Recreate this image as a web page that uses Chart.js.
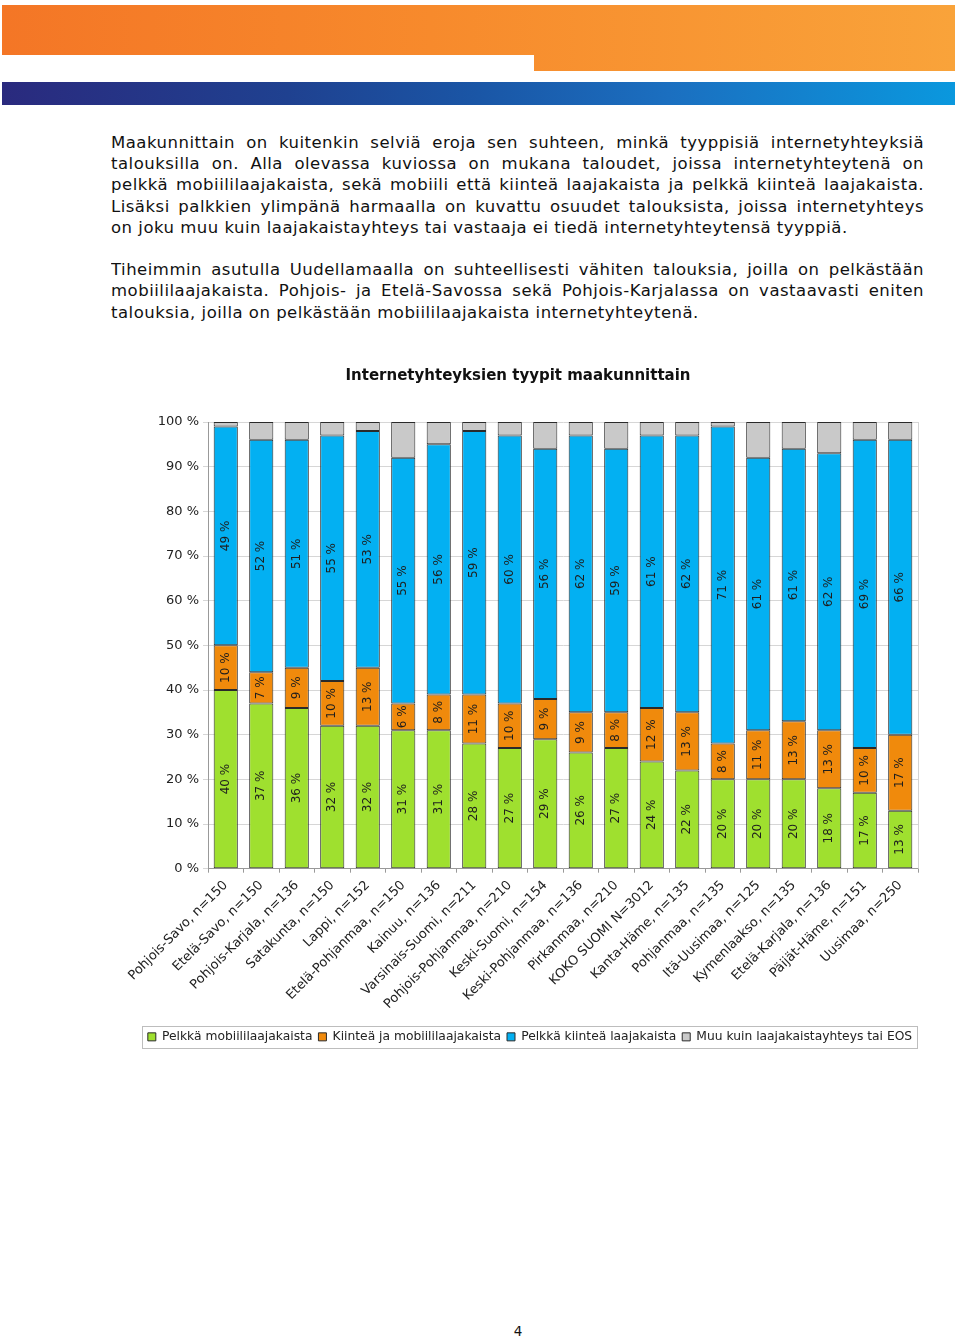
<!DOCTYPE html>
<html lang="fi">
<head>
<meta charset="utf-8">
<title>Internetyhteyksien tyypit maakunnittain</title>
<script src="https://cdn.jsdelivr.net/npm/chart.js@4/dist/chart.umd.min.js"></script>
<style>
  html, body { margin: 0; padding: 0; background: #fff; }
  body { width: 960px; height: 1340px; position: relative; overflow: hidden; font-family: "DejaVu Sans", Verdana, sans-serif; color: #111; }
  .orange {
    position: absolute; left: 2px; top: 5px; width: 953px; height: 66px;
    background: linear-gradient(90deg, #f47626 0%, #f78a2c 45%, #f9a33a 100%);
    clip-path: polygon(0 0, 100% 0, 100% 66px, 532px 66px, 532px 50px, 0 50px);
  }
  .blue {
    position: absolute; left: 2px; top: 82px; width: 953px; height: 23px;
    background: linear-gradient(90deg, #2a2a7e 0%, #1f4190 30%, #1a56a6 50%, #1b6fc0 70%, #0a98de 100%);
  }
  .text { position: absolute; left: 111px; top: 132px; width: 813px; font-size: 16.5px; letter-spacing: 0.5px; }
  .text div { height: 21.2px; line-height: 21.2px; white-space: nowrap; }
  .text div.j { text-align: justify; text-align-last: justify; white-space: normal; overflow: hidden; }
  #wrap { position: absolute; left: 100px; top: 355px; width: 840px; height: 698px; }
  .page { position: absolute; left: 508px; width: 20px; top: 1323px; text-align: center; font-size: 13.5px; }
</style>
</head>
<body>
<div class="orange"></div>
<div class="blue"></div>

<div class="text">
  <div class="j">Maakunnittain on kuitenkin selviä eroja sen suhteen, minkä tyyppisiä internetyhteyksiä</div>
  <div class="j">talouksilla on. Alla olevassa kuviossa on mukana taloudet, joissa internetyhteytenä on</div>
  <div class="j">pelkkä mobiililaajakaista, sekä mobiili että kiinteä laajakaista ja pelkkä kiinteä laajakaista.</div>
  <div class="j">Lisäksi palkkien ylimpänä harmaalla on kuvattu osuudet talouksista, joissa internetyhteys</div>
  <div>on joku muu kuin laajakaistayhteys tai vastaaja ei tiedä internetyhteytensä tyyppiä.</div>
  <div>&nbsp;</div>
  <div class="j">Tiheimmin asutulla Uudellamaalla on suhteellisesti vähiten talouksia, joilla on pelkästään</div>
  <div class="j">mobiililaajakaista. Pohjois- ja Etelä-Savossa sekä Pohjois-Karjalassa on vastaavasti eniten</div>
  <div>talouksia, joilla on pelkästään mobiililaajakaista internetyhteytenä.</div>
</div>

<div id="wrap"><canvas id="chart"></canvas></div>
<div class="page">4</div>

<script>
const categories = [
  "Pohjois-Savo, n=150", "Etelä-Savo, n=150", "Pohjois-Karjala, n=136", "Satakunta, n=150",
  "Lappi, n=152", "Etelä-Pohjanmaa, n=150", "Kainuu, n=136", "Varsinais-Suomi, n=211",
  "Pohjois-Pohjanmaa, n=210", "Keski-Suomi, n=154", "Keski-Pohjanmaa, n=136", "Pirkanmaa, n=210",
  "KOKO SUOMI N=3012", "Kanta-Häme, n=135", "Pohjanmaa, n=135", "Itä-Uusimaa, n=125",
  "Kymenlaakso, n=135", "Etelä-Karjala, n=136", "Päijät-Häme, n=151", "Uusimaa, n=250"
];
const seriesNames = [
  "Pelkkä mobiililaajakaista", "Kiinteä ja mobiililaajakaista",
  "Pelkkä kiinteä laajakaista", "Muu kuin laajakaistayhteys tai EOS"
];
const mobileOnly     = [40, 37, 36, 32, 32, 31, 31, 28, 27, 29, 26, 27, 24, 22, 20, 20, 20, 18, 17, 13];
const fixedAndMobile = [10, 7, 9, 10, 13, 6, 8, 11, 10, 9, 9, 8, 12, 13, 8, 11, 13, 13, 10, 17];
const fixedOnly      = [49, 52, 51, 55, 53, 55, 56, 59, 60, 56, 62, 59, 61, 62, 71, 61, 61, 62, 69, 66];
const otherOrEos     = [1, 4, 4, 3, 2, 8, 5, 2, 3, 6, 3, 6, 3, 3, 1, 8, 6, 7, 4, 4];
const yTicks = [0, 10, 20, 30, 40, 50, 60, 70, 80, 90, 100];

const colors = ["#9fe02f", "#f08a0c", "#03b0f2", "#c9c9c9"];
const FONT = '"DejaVu Sans", Verdana, sans-serif';
const LEGEND_SHIFT = 12;

// value labels inside the bars, turned on their side
const segmentLabels = {
  id: "segmentLabels",
  afterDatasetsDraw(chart) {
    const ctx = chart.ctx;
    ctx.save();
    ctx.font = "12px " + FONT;
    ctx.fillStyle = "#1e1e1e";
    ctx.textAlign = "center";
    ctx.textBaseline = "middle";
    chart.data.datasets.forEach((ds, i) => {
      if (i === 3) return;
      chart.getDatasetMeta(i).data.forEach((bar, j) => {
        const y = (bar.y + bar.base) / 2;
        ctx.save();
        ctx.translate(bar.x, y);
        ctx.rotate(-Math.PI / 2);
        ctx.fillText(ds.data[j] + " %", 0, 0);
        ctx.restore();
      });
    });
    ctx.restore();
  }
};

// nudge the legend a bit right, frame it, and close the plot on the right
const frames = {
  id: "frames",
  afterUpdate(chart) {
    const lg = chart.legend;
    if (!lg) return;
    lg.left += LEGEND_SHIFT;
    lg.right += LEGEND_SHIFT;
    (lg.legendHitBoxes || []).forEach(b => { b.left += LEGEND_SHIFT; });
  },
  afterDraw(chart) {
    const ctx = chart.ctx;
    const boxes = chart.legend.legendHitBoxes;
    if (boxes && boxes.length) {
      const left = Math.min(...boxes.map(b => b.left)) - 6;
      const right = Math.max(...boxes.map(b => b.left + b.width)) + 5;
      const top = boxes[0].top - 5;
      const bottom = boxes[0].top + boxes[0].height + 5;
      ctx.save();
      ctx.strokeStyle = "#bdbdbd";
      ctx.lineWidth = 1;
      ctx.strokeRect(Math.round(left) + 0.5, Math.round(top) + 0.5, Math.round(right - left), Math.round(bottom - top));
      ctx.restore();
    }
    const a = chart.chartArea;
    ctx.save();
    ctx.strokeStyle = "#d4d4d4";
    ctx.beginPath();
    ctx.moveTo(Math.round(a.right) + 0.5, a.top);
    ctx.lineTo(Math.round(a.right) + 0.5, a.bottom);
    ctx.stroke();
    ctx.restore();
  }
};

const datasets = [mobileOnly, fixedAndMobile, fixedOnly, otherOrEos].map((vals, i) => ({
  label: seriesNames[i],
  data: vals,
  backgroundColor: colors[i],
  borderColor: "#2a2a2a",
  borderWidth: 1,
  borderSkipped: false,
  categoryPercentage: 1,
  barPercentage: 0.68
}));

new Chart(document.getElementById("chart"), {
  type: "bar",
  data: { labels: categories, datasets: datasets },
  options: {
    responsive: true,
    maintainAspectRatio: false,
    animation: false,
    layout: { padding: { left: 18, right: 22, top: 0, bottom: 0 } },
    plugins: {
      title: {
        display: true,
        text: "Internetyhteyksien tyypit maakunnittain",
        color: "#111",
        font: { family: FONT, size: 15, weight: "bold" },
        padding: { top: 12, bottom: 37 }
      },
      legend: {
        position: "bottom",
        labels: {
          color: "#222",
          font: { family: FONT, size: 12.3 },
          boxWidth: 8,
          boxHeight: 8,
          padding: 6,
          useBorderRadius: false
        }
      },
      tooltip: { enabled: false }
    },
    scales: {
      x: {
        stacked: true,
        grid: { display: true, drawOnChartArea: false, offset: true, tickLength: 4, color: "#999" },
        border: { color: "#999" },
        ticks: {
          color: "#222",
          font: { family: FONT, size: 13 },
          minRotation: 45,
          maxRotation: 45,
          autoSkip: false,
          padding: 5
        },
        afterFit(s) { s.height = 156; }
      },
      y: {
        stacked: true,
        min: 0,
        max: 100,
        afterBuildTicks(s) { s.ticks = yTicks.map(v => ({ value: v })); },
        grid: { color: "#d6d6d6", tickLength: 5 },
        border: { color: "#999" },
        ticks: {
          color: "#222",
          font: { family: FONT, size: 13 },
          padding: 4,
          callback: v => v + " %"
        },
        afterFit(s) { s.width = 90; }
      }
    }
  },
  plugins: [segmentLabels, frames]
});
</script>
</body>
</html>
